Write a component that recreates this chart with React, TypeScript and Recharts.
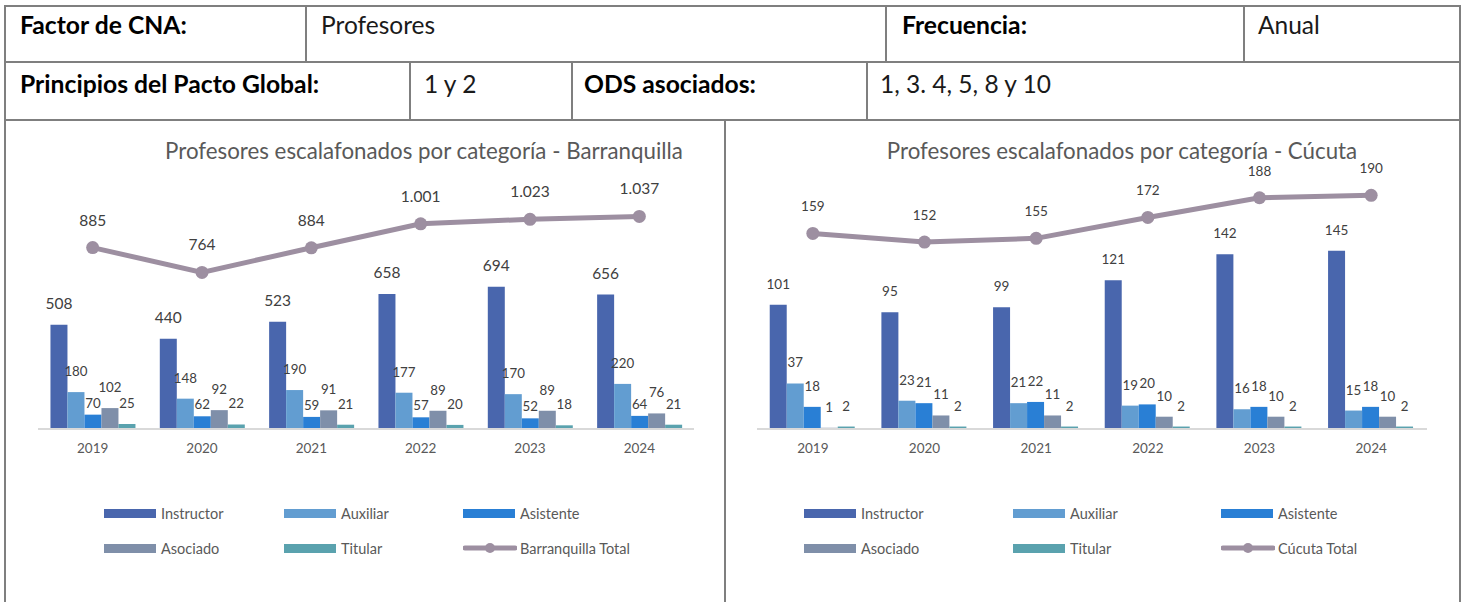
import React from "react";
import { ComposedChart, Bar, Line, XAxis, YAxis, LabelList } from "recharts";

const years = ["2019", "2020", "2021", "2022", "2023", "2024"];

const barranquillaInstructor = [508, 440, 523, 658, 694, 656];
const barranquillaAuxiliar = [180, 148, 190, 177, 170, 220];
const barranquillaAsistente = [70, 62, 59, 57, 52, 64];
const barranquillaAsociado = [102, 92, 91, 89, 89, 76];
const barranquillaTitular = [25, 22, 21, 20, 18, 21];
const barranquillaTotal = [885, 764, 884, 1001, 1023, 1037];

const cucutaInstructor = [101, 95, 99, 121, 142, 145];
const cucutaAuxiliar = [37, 23, 21, 19, 16, 15];
const cucutaAsistente = [18, 21, 22, 20, 18, 18];
const cucutaAsociado = [1, 11, 11, 10, 10, 10];
const cucutaTitular = [2, 2, 2, 2, 2, 2];
const cucutaTotal = [159, 152, 155, 172, 188, 190];

const SERIES = [
  { key: "instructor", name: "Instructor", color: "#4966ad" },
  { key: "auxiliar", name: "Auxiliar", color: "#629dd1" },
  { key: "asistente", name: "Asistente", color: "#297fd5" },
  { key: "asociado", name: "Asociado", color: "#7f8fa9" },
  { key: "titular", name: "Titular", color: "#5aa2ae" },
];
const TOTAL_COLOR = "#9d8fa1";

const buildRows = (ins: number[], aux: number[], asi: number[], aso: number[], tit: number[], tot: number[]) =>
  years.map((year, i) => ({
    year,
    instructor: ins[i],
    auxiliar: aux[i],
    asistente: asi[i],
    asociado: aso[i],
    titular: tit[i],
    total: tot[i],
  }));

const barranquillaData = buildRows(
  barranquillaInstructor, barranquillaAuxiliar, barranquillaAsistente,
  barranquillaAsociado, barranquillaTitular, barranquillaTotal,
);
const cucutaData = buildRows(
  cucutaInstructor, cucutaAuxiliar, cucutaAsistente,
  cucutaAsociado, cucutaTitular, cucutaTotal,
);

// miles con punto, como en el original
const fmt = (v: any) => String(v).replace(/\B(?=(\d{3})+(?!\d))/g, ".");

const FONT = "Lato, 'Open Sans', sans-serif";
const BORDER = "#7f7f7f";

interface ChartProps {
  title: string;
  titleCenter: number;
  data: any[];
  max: number;
  totalName: string;
  left: number;
  width: number;
  plotLeft: number;
  plotRight: number;
  bigLabel: number;
  smallLabel: number;
  lowAsistente?: boolean;
  legendCols: number[];
}

function CategoryChart(p: ChartProps) {
  return (
    <>
      <div
        style={{
          position: "absolute",
          left: p.titleCenter - 400,
          top: 137,
          width: 800,
          textAlign: "center",
          fontSize: 22.3,
          lineHeight: "28px",
          color: "#595959",
          whiteSpace: "nowrap",
        }}
      >
        {p.title}
      </div>
      <div style={{ position: "absolute", left: p.left, top: 122 }}>
        <ComposedChart
          width={p.width}
          height={478}
          data={p.data}
          barGap={0}
          barCategoryGap="11.4%"
          margin={{ top: 61, right: p.plotRight, bottom: 131, left: p.plotLeft }}
        >
          <XAxis
            dataKey="year"
            height={40}
            tickLine={false}
            axisLine={{ stroke: "#d9d9d9", strokeWidth: 2 }}
            tick={{ fontSize: 13.5, fill: "#595959" }}
            tickMargin={8}
          />
          <YAxis hide domain={[0, p.max]} />
          {SERIES.map((s) => (
            <Bar key={s.key} dataKey={s.key} name={s.name} fill={s.color} isAnimationActive={false}>
              <LabelList
                dataKey={s.key}
                position="top"
                offset={p.lowAsistente && s.key === "asistente" ? 7 : 16}
                fill="#404040"
                fontSize={s.key === "instructor" ? p.bigLabel : p.smallLabel}
                formatter={fmt}
              />
            </Bar>
          ))}
          <Line
            dataKey="total"
            name={p.totalName}
            stroke={TOTAL_COLOR}
            strokeWidth={5}
            dot={{ r: 6.5, fill: TOTAL_COLOR, stroke: TOTAL_COLOR, strokeWidth: 0 }}
            activeDot={false}
            isAnimationActive={false}
          >
            <LabelList dataKey="total" position="top" offset={22} fill="#404040" fontSize={p.bigLabel} formatter={fmt} />
          </Line>
        </ComposedChart>
      </div>
      {[...SERIES, { key: "total", name: p.totalName, color: TOTAL_COLOR }].map((s, i) => {
        const x = p.legendCols[i % 3];
        const y = i < 3 ? 513 : 548;
        return (
          <div
            key={s.key}
            style={{
              position: "absolute",
              left: x,
              top: y - 10,
              height: 20,
              display: "flex",
              alignItems: "center",
              fontSize: 14.5,
              color: "#595959",
              whiteSpace: "nowrap",
            }}
          >
            {s.key === "total" ? (
              <svg width={54} height={14} style={{ marginRight: 3 }}>
                <line x1={2} y1={7} x2={52} y2={7} stroke={TOTAL_COLOR} strokeWidth={5} strokeLinecap="round" />
                <circle cx={27} cy={7} r={5} fill={TOTAL_COLOR} />
              </svg>
            ) : (
              <div style={{ width: 52, height: 9, background: s.color, marginRight: 5 }} />
            )}
            {s.name}
          </div>
        );
      })}
    </>
  );
}

const hLines = [
  { x: 5, y: 5, w: 1456 },
  { x: 5, y: 61, w: 1456 },
  { x: 5, y: 119, w: 1456 },
];
const vLines = [
  { x: 4, y: 5, h: 597 },
  { x: 1459, y: 5, h: 597 },
  { x: 305, y: 5, h: 57 },
  { x: 885, y: 5, h: 57 },
  { x: 1243, y: 5, h: 57 },
  { x: 409, y: 61, h: 59 },
  { x: 571, y: 61, h: 59 },
  { x: 866, y: 61, h: 59 },
  { x: 724, y: 119, h: 483 },
];

const cells = [
  { x: 20, y: 25, text: "Factor de CNA:", bold: true },
  { x: 321, y: 25, text: "Profesores", bold: false },
  { x: 902, y: 25, text: "Frecuencia:", bold: true },
  { x: 1258, y: 25, text: "Anual", bold: false },
  { x: 20, y: 84, text: "Principios del Pacto Global:", bold: true },
  { x: 424, y: 84, text: "1 y 2", bold: false },
  { x: 584, y: 84, text: "ODS asociados:", bold: true },
  { x: 880, y: 84, text: "1, 3. 4, 5, 8 y 10", bold: false },
];

export default function App() {
  return (
    <div
      style={{
        position: "absolute",
        left: 0,
        top: 0,
        width: 1470,
        height: 602,
        overflow: "hidden",
        background: "white",
        fontFamily: FONT,
      }}
    >
      {hLines.map((l, i) => (
        <div key={"h" + i} style={{ position: "absolute", left: l.x, top: l.y, width: l.w, height: 2, background: BORDER }} />
      ))}
      {vLines.map((l, i) => (
        <div key={"v" + i} style={{ position: "absolute", left: l.x, top: l.y, width: 2, height: l.h, background: BORDER }} />
      ))}
      {cells.map((c, i) => (
        <div
          key={"c" + i}
          style={{
            position: "absolute",
            left: c.x,
            top: c.y - 15,
            height: 30,
            lineHeight: "30px",
            fontSize: c.bold ? 24.7 : 24.5,
            fontWeight: c.bold ? 700 : 400,
            color: c.bold ? "#000" : "#1a1a1a",
            whiteSpace: "nowrap",
          }}
        >
          {c.text}
        </div>
      ))}
      <CategoryChart
        title="Profesores escalafonados por categoría - Barranquilla"
        titleCenter={424}
        data={barranquillaData}
        max={1200}
        totalName="Barranquilla Total"
        left={7}
        width={717}
        plotLeft={31}
        plotRight={30}
        bigLabel={15.5}
        smallLabel={13.3}
        lowAsistente
        legendCols={[104, 284, 463]}
      />
      <CategoryChart
        title="Profesores escalafonados por categoría - Cúcuta"
        titleCenter={1122}
        data={cucutaData}
        max={200}
        totalName="Cúcuta Total"
        left={728}
        width={731}
        plotLeft={29}
        plotRight={32}
        bigLabel={13.5}
        smallLabel={13.3}
        legendCols={[804, 1013, 1221]}
      />
    </div>
  );
}
